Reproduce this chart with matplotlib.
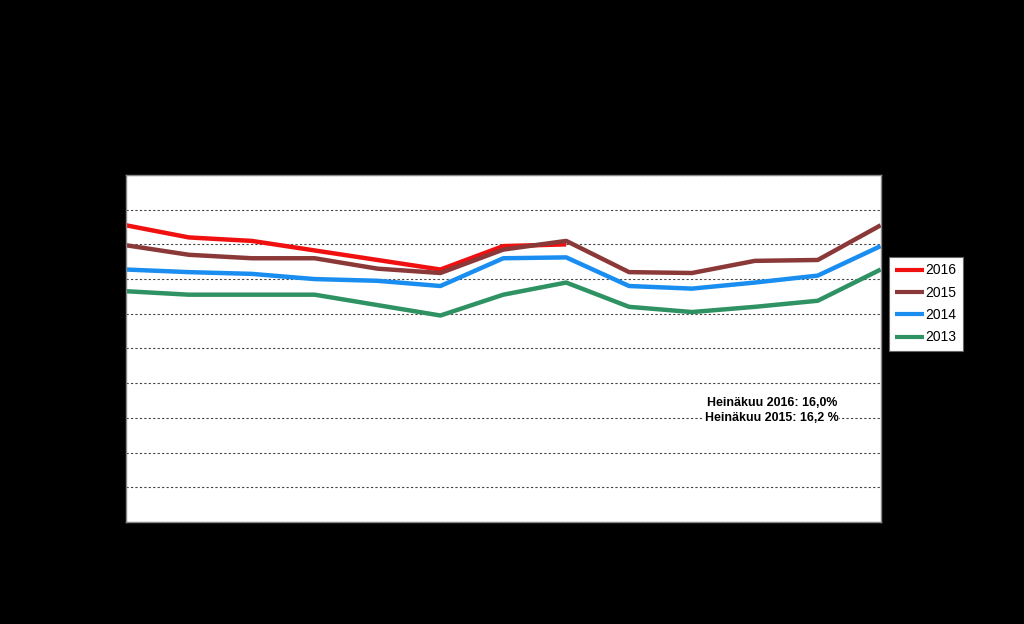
import matplotlib
matplotlib.use("Agg")
import matplotlib.pyplot as plt

plt.rcParams["font.family"] = ["Liberation Sans", "DejaVu Sans"]

months = ["12", "1", "2", "3", "4", "5", "6", "7", "8", "9", "10", "11", "12"]
y2016 = [17.1, 16.4, 16.2, 15.65, 15.1, 14.55, 15.9, 16.0]
y2015 = [15.95, 15.4, 15.2, 15.2, 14.6, 14.35, 15.7, 16.2, 14.4, 14.35, 15.05, 15.1, 17.1]
y2014 = [14.55, 14.4, 14.3, 14.0, 13.9, 13.6, 15.2, 15.25, 13.6, 13.45, 13.8, 14.2, 15.9]
y2013 = [13.3, 13.1, 13.1, 13.1, 12.5, 11.9, 13.1, 13.8, 12.4, 12.1, 12.4, 12.75, 14.55]
yticks = [0, 2, 4, 6, 8, 10, 12, 14, 16, 18, 20]
series_names = ["2016", "2015", "2014", "2013"]
colors = ["#f01010", "#8b3838", "#1a8ef0", "#2e9263"]
note_lines = ["Heinäkuu 2016: 16,0%", "Heinäkuu 2015: 16,2 %"]

fig = plt.figure(figsize=(10.24, 6.24), dpi=100, facecolor="black")
ax = fig.add_axes([0.123, 0.1635, 0.737, 0.5561])
ax.set_facecolor("white")

for vals, name, c in zip([y2016, y2015, y2014, y2013], series_names, colors):
    ax.plot(range(len(vals)), vals, color=c, lw=3.2, label=name, solid_capstyle="butt")

ax.set_xlim(0, len(months) - 1)
ax.set_ylim(0, 20)
ax.set_yticks(yticks)
ax.set_yticklabels([str(t) for t in yticks], color="black")
ax.set_xticks(range(len(months)))
ax.set_xticklabels(months, color="black")
ax.tick_params(length=0)
ax.tick_params(axis="x", pad=10)
ax.tick_params(axis="y", pad=8)
ax.grid(axis="y", linestyle=(0, (2, 2)), color="#444444", lw=0.8)
ax.set_axisbelow(True)
for s in ax.spines.values():
    s.set_color("#888888")
    s.set_linewidth(1.0)

leg = ax.legend(loc="upper left", bbox_to_anchor=(1.0105, 0.763), frameon=True,
                fancybox=False, edgecolor="#666666", facecolor="white", framealpha=1,
                fontsize=10, handlelength=2.1, handletextpad=0.1, borderpad=0.45,
                labelspacing=0.6, borderaxespad=0)
leg.get_frame().set_linewidth(0.8)
for line in leg.get_lines():
    line.set_linewidth(3.0)

ax.text(10.27, 6.86, note_lines[0], fontsize=8.9, fontweight="bold", ha="center", va="center",
        color="black", bbox=dict(facecolor="white", edgecolor="none", pad=0.5))
ax.text(10.27, 6.0, note_lines[1], fontsize=8.9, fontweight="bold", ha="center", va="center",
        color="black", bbox=dict(facecolor="white", edgecolor="none", pad=0.5))

fig.savefig("out.png", dpi=100, facecolor="black")
